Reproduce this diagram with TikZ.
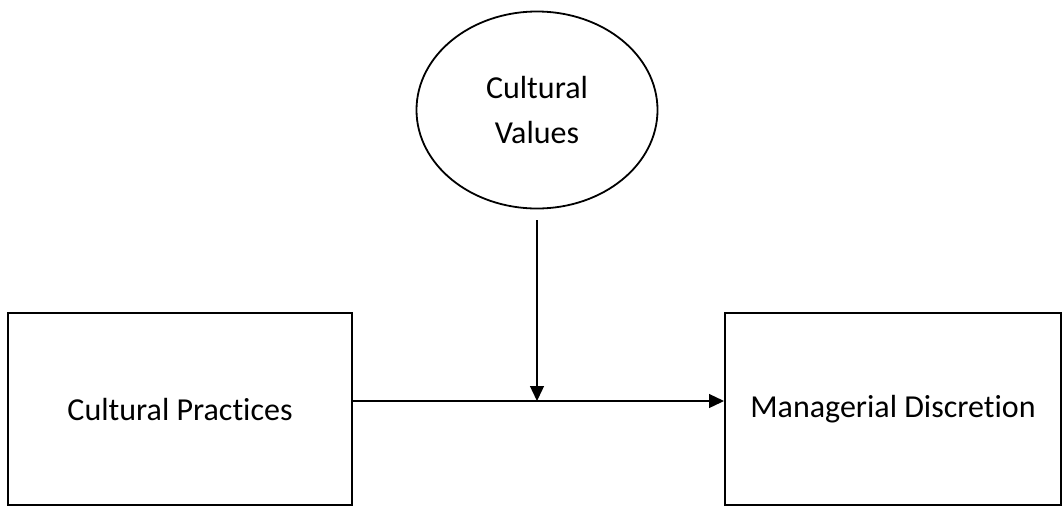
\documentclass[tikz,border=0pt]{standalone}
\usepackage{fontspec}
\setmainfont{Carlito}[RawFeature=-liga]
\usetikzlibrary{arrows.meta,shapes.geometric}
\begin{document}
\begin{tikzpicture}[x=1pt,y=-1pt,
  boxnode/.style={draw,line width=2pt,minimum width=344pt,minimum height=192pt,inner sep=0pt,font=\fontsize{32}{38}\selectfont},
  ovalnode/.style={draw,ellipse,line width=1.8pt,minimum width=241pt,minimum height=197pt,inner sep=0pt,align=center,font=\fontsize{32}{45}\selectfont},
  conn/.style={line width=1.3pt,-{Triangle[length=15pt,width=14pt]}}]
\useasboundingbox (0,0) rectangle (1062,507);
\node[boxnode] (cp) at (180,409) {Cultural Practices};
\node[boxnode,minimum width=336pt] (md) at (893,409) {Managerial Discretion};
\node[ovalnode] (cv) at (537,110) {Cultural\\Values};
\coordinate (vtop) at (537,220);
\coordinate (vend) at (537,401);
\draw[conn] (cp.east |- 0,401) -- (md.west |- 0,401);
\draw[conn] (vtop) -- (vend);
\end{tikzpicture}
\end{document}
